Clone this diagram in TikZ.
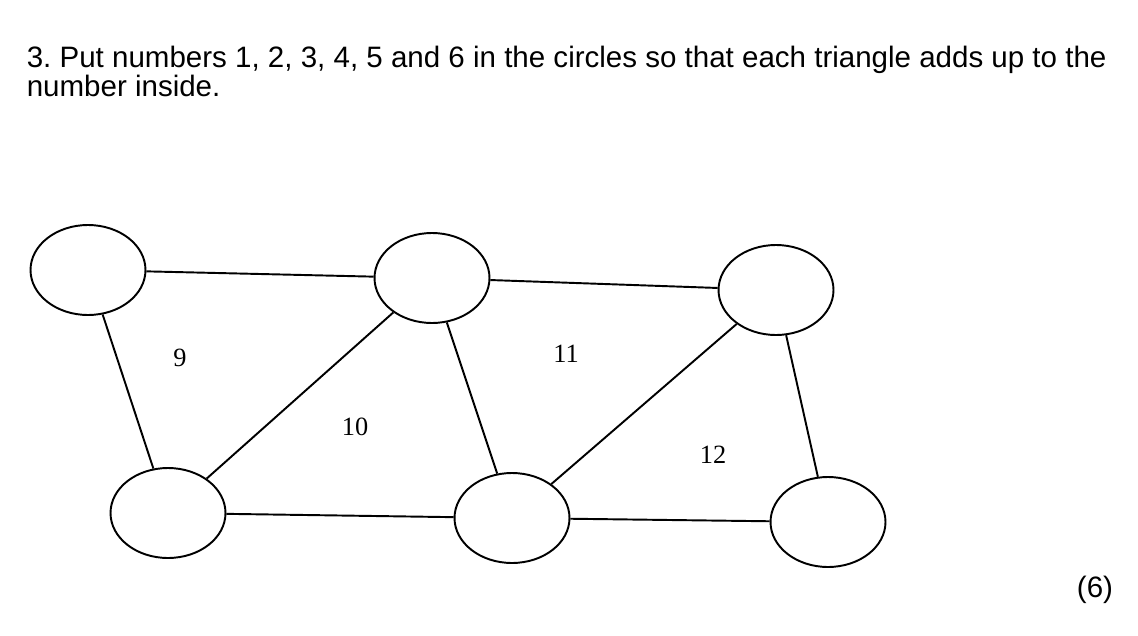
\documentclass[tikz,border=0pt]{standalone}
\usepackage{fontspec}
\setmainfont{Liberation Sans}
\newfontfamily\numfont{Liberation Serif}
\usetikzlibrary{shapes.geometric}
\frenchspacing
\tikzset{
	spot/.style={draw,ellipse,line width=1.1pt,minimum width=2.3cm,minimum height=1.8cm},
	sum/.style={font=\numfont\fontsize{15}{17}\selectfont},
	every path/.append style={line width=1.1pt}
}
\begin{document}
\begin{tikzpicture}[x=0.02cm,y=-0.02cm]
	\useasboundingbox (0,0) rectangle (1138,635);
	\node [anchor=west,font=\fontsize{16.8}{19}\selectfont] (task) at (20,60)
		{3. Put numbers 1, 2, 3, 4, 5 and 6 in the circles so that each triangle adds up to the};
	\node [anchor=west,font=\fontsize{16.8}{19}\selectfont] (task2) at (20,86) {number inside.};
	\node [spot] (a) at (88,270)  {};
	\node [spot] (b) at (432,278) {};
	\node [spot] (c) at (776,290) {};
	\node [spot] (d) at (168,513) {};
	\node [spot] (e) at (512,518) {};
	\node [spot] (f) at (828,522) {};
	\draw (a) -- (b);
	\draw (b) -- (c);
	\draw (a) -- (d);
	\draw (b) -- (d);
	\draw (b) -- (e);
	\draw (c) -- (e);
	\draw (c) -- (f);
	\draw (d) -- (e);
	\draw (e) -- (f);
	\node [sum] (s9)  at (180,358) {9};
	\node [sum] (s10) at (355,427) {10};
	\node [sum] (s11) at (566,354) {11};
	\node [sum] (s12) at (713,455) {12};
	\node [font=\fontsize{16.8}{19}\selectfont] (marks) at (1095,590) {(6)};
\end{tikzpicture}
\end{document}
